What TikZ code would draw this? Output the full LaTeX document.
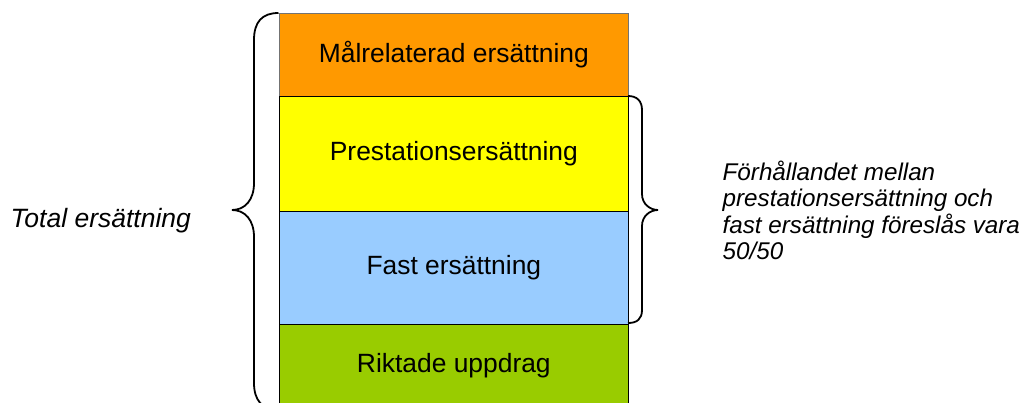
\documentclass[tikz,border=0pt]{standalone}
\usepackage{fontspec}
\setmainfont{Liberation Sans}
\definecolor{cOrange}{HTML}{FF9900}
\definecolor{cYellow}{HTML}{FFFF00}
\definecolor{cBlue}{HTML}{99CCFF}
\definecolor{cGreen}{HTML}{99CC00}
\begin{document}
\begin{tikzpicture}[x=1pt,y=-1pt,
  bar/.style={draw=black, line width=1.2pt, minimum width=349.5pt, inner sep=0pt,
    font=\fontsize{26.4}{30}\selectfont, anchor=north west},
  brace/.style={draw=black, line width=1.8pt},
  lbl/.style={inner sep=0pt, font=\itshape\fontsize{26.5}{30}\selectfont}]
\useasboundingbox (0,0) rectangle (1022,403);
\node[bar, fill=cOrange, draw=black!55, minimum height=83pt] (mal) at (278.5,13) {Målrelaterad ersättning};
\node[bar, fill=cYellow, minimum height=115pt] (pres) at (278.5,96) {Prestationsersättning};
\node[bar, fill=cBlue, minimum height=113pt] (fast) at (278.5,211) {Fast ersättning};
\node[bar, fill=cGreen, minimum height=82pt] (rikt) at (278.5,324) {Riktade uppdrag};
\draw[brace] (278.5,13) .. controls (262,13) and (254,22) .. (254,40) -- (254,183)
  .. controls (254,200) and (245,210) .. (232,210)
  .. controls (245,210) and (254,220) .. (254,237) -- (254,383)
  .. controls (254,400) and (262,410) .. (278.5,410);
\draw[brace] (628,96) .. controls (637,96) and (642,101) .. (642,110) -- (642,194)
  .. controls (642,204) and (650,210) .. (658,210)
  .. controls (650,210) and (642,216) .. (642,226) -- (642,310)
  .. controls (642,319) and (637,323) .. (628,323);
\node[lbl, anchor=base west] (tot) at (10.5,228) {Total ersättning};
\node[lbl, anchor=west, align=left, font=\itshape\fontsize{24.2}{26.5}\selectfont] (forh) at (722.5,210.5)
  {Förhållandet mellan\\prestationsersättning och\\fast ersättning föreslås vara\\50/50};
\end{tikzpicture}
\end{document}
